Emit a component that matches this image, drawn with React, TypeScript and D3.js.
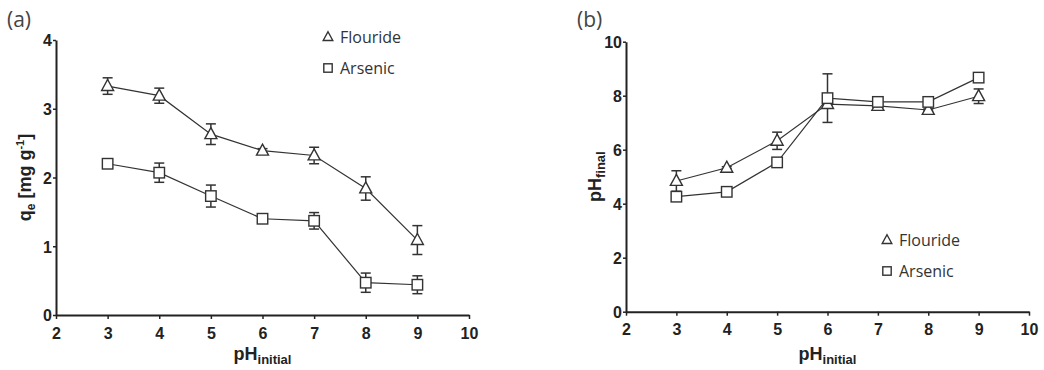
import React, { useRef, useEffect } from "react";
import * as d3 from "d3";

// pH initial values (x)
const phInitial = [3, 4, 5, 6, 7, 8, 9];

// (a) adsorption capacity qe
const qeFlouride = [3.33, 3.19, 2.63, 2.39, 2.32, 1.84, 1.09];
const qeFlourideErr = [0.12, 0.11, 0.15, 0.03, 0.12, 0.17, 0.21];
const qeArsenic = [2.2, 2.07, 1.73, 1.4, 1.37, 0.47, 0.44];
const qeArsenicErr = [0.05, 0.14, 0.16, 0.06, 0.12, 0.14, 0.13];

// (b) final pH
const phFinalFlouride = [4.84, 5.33, 6.33, 7.69, 7.62, 7.47, 7.98];
const phFinalFlourideErr = [0.38, 0.04, 0.32, 0.05, 0.04, 0.04, 0.27];
const phFinalArsenic = [4.26, 4.44, 5.53, 7.91, 7.77, 7.77, 8.67];
const phFinalArsenicErr = [0.1, 0.05, 0.05, 0.9, 0.05, 0.05, 0.05];

const xTicks = [2, 3, 4, 5, 6, 7, 8, 9, 10];
const qeTicks = [0, 1, 2, 3, 4];
const phTicks = [0, 2, 4, 6, 8, 10];

const tickFont = "'Liberation Sans', Arial, sans-serif";
const textFont = "'Open Sans', 'DejaVu Sans', sans-serif";
const ink = "#222";

interface PanelOpts {
  tag: string;
  left: number;
  right: number;
  top: number;
  bottom: number;
  yMax: number;
  yTicks: number[];
  flouride: number[];
  flourideErr: number[];
  arsenic: number[];
  arsenicErr: number[];
  yTitle: "qe" | "ph";
  legendX: number;
  legendY: number;
}

function drawPanel(svg: d3.Selection<SVGSVGElement, unknown, null, undefined>, o: PanelOpts) {
  const g = svg.append("g");
  const x = d3.scaleLinear().domain([2, 10]).range([o.left, o.right]);
  const y = d3.scaleLinear().domain([0, o.yMax]).range([o.bottom, o.top]);

  // axes
  const xAxis = g.append("g").attr("transform", `translate(0,${o.bottom})`)
    .call(d3.axisBottom(x).tickValues(xTicks).tickSize(4).tickSizeOuter(0).tickFormat(d3.format("d")));
  const yAxis = g.append("g").attr("transform", `translate(${o.left},0)`)
    .call(d3.axisLeft(y).tickValues(o.yTicks).tickSize(3).tickSizeOuter(0).tickFormat(d3.format("d")));
  [xAxis, yAxis].forEach((a) => {
    a.select(".domain").attr("stroke", ink).attr("stroke-width", 2);
    a.selectAll(".tick line").attr("stroke", ink).attr("stroke-width", 1.5);
    a.selectAll(".tick text")
      .attr("fill", ink)
      .style("font-family", tickFont)
      .style("font-weight", "bold")
      .style("font-size", "16px");
  });
  xAxis.selectAll(".tick text").attr("dy", "1.05em");
  yAxis.selectAll(".tick text").attr("x", -4).attr("dy", "0.36em");

  // series
  const series = [
    { vals: o.flouride, err: o.flourideErr, shape: "tri" },
    { vals: o.arsenic, err: o.arsenicErr, shape: "sq" },
  ];
  const line = d3.line<number>().x((_, i) => x(phInitial[i])).y((d) => y(d));

  series.forEach((s) => {
    g.append("path")
      .attr("d", line(s.vals)!)
      .attr("fill", "none")
      .attr("stroke", "#333")
      .attr("stroke-width", 1.2);

    // error bars
    s.vals.forEach((v, i) => {
      const cx = x(phInitial[i]);
      const y1 = y(v + s.err[i]);
      const y2 = y(v - s.err[i]);
      const eb = g.append("g").attr("stroke", "#333").attr("stroke-width", 1.5);
      eb.append("line").attr("x1", cx).attr("x2", cx).attr("y1", y1).attr("y2", y2);
      eb.append("line").attr("x1", cx - 5).attr("x2", cx + 5).attr("y1", y1).attr("y2", y1);
      eb.append("line").attr("x1", cx - 5).attr("x2", cx + 5).attr("y1", y2).attr("y2", y2);
    });
  });

  series.forEach((s) => {
    s.vals.forEach((v, i) => {
      drawMarker(g, s.shape, x(phInitial[i]), y(v), 1);
    });
  });

  // legend
  const labels = ["Flouride", "Arsenic"];
  series.forEach((s, i) => {
    const ly = o.legendY + i * 31;
    drawMarker(g, s.shape, o.legendX, ly, 0.8);
    g.append("text")
      .attr("x", o.legendX + 12)
      .attr("y", ly)
      .attr("dy", "0.36em")
      .attr("fill", "#333")
      .style("font-family", textFont)
      .style("font-size", "16px")
      .text(labels[i]);
  });

  // panel tag
  g.append("text")
    .attr("x", o.left - 49)
    .attr("y", 27)
    .attr("fill", "#444")
    .style("font-family", textFont)
    .style("font-size", "21px")
    .text(o.tag);

  // x title
  const xt = g.append("text")
    .attr("x", (o.left + o.right) / 2)
    .attr("y", 360)
    .attr("text-anchor", "middle")
    .attr("fill", ink)
    .style("font-family", tickFont)
    .style("font-weight", "bold")
    .style("font-size", "18px");
  xt.append("tspan").text("pH");
  xt.append("tspan").attr("dy", 4).style("font-size", "13px").text("initial");

  // y title
  const cy = (o.top + o.bottom) / 2;
  const yt = g.append("text")
    .attr("transform", `translate(${o.left - 25},${cy}) rotate(-90)`)
    .attr("text-anchor", "middle")
    .attr("fill", ink)
    .style("font-family", tickFont)
    .style("font-weight", "bold")
    .style("font-size", "18px");
  if (o.yTitle === "qe") {
    yt.append("tspan").text("q");
    yt.append("tspan").attr("dy", 4).style("font-size", "12px").text("e");
    yt.append("tspan").attr("dy", -4).text(" [mg g");
    yt.append("tspan").attr("dy", -7).style("font-size", "11px").text("-1");
    yt.append("tspan").attr("dy", 7).text("]");
  } else {
    yt.append("tspan").text("pH");
    yt.append("tspan").attr("dy", 4).style("font-size", "13px").text("final");
  }
}

function drawMarker(g: d3.Selection<SVGGElement, unknown, null, undefined>, shape: string, cx: number, cy: number, k: number) {
  if (shape === "tri") {
    const h = 11 * k;
    const w = 12 * k;
    g.append("path")
      .attr("d", `M${cx},${cy - h * 0.6}L${cx + w / 2},${cy + h * 0.4}L${cx - w / 2},${cy + h * 0.4}Z`)
      .attr("fill", "white")
      .attr("stroke", "#333")
      .attr("stroke-width", 1.4);
  } else {
    const s = 10.5 * k;
    g.append("rect")
      .attr("x", cx - s / 2)
      .attr("y", cy - s / 2)
      .attr("width", s)
      .attr("height", s)
      .attr("fill", "white")
      .attr("stroke", "#333")
      .attr("stroke-width", 1.4);
  }
}

export default function App() {
  const ref = useRef<SVGSVGElement | null>(null);

  useEffect(() => {
    if (!ref.current) return;
    const svg = d3.select(ref.current);
    svg.selectAll("*").remove();

    drawPanel(svg, {
      tag: "(a)", left: 56, right: 469, top: 40, bottom: 315, yMax: 4, yTicks: qeTicks,
      flouride: qeFlouride, flourideErr: qeFlourideErr,
      arsenic: qeArsenic, arsenicErr: qeArsenicErr,
      yTitle: "qe", legendX: 328, legendY: 37,
    });
    drawPanel(svg, {
      tag: "(b)", left: 626, right: 1029, top: 41.7, bottom: 311.7, yMax: 10, yTicks: phTicks,
      flouride: phFinalFlouride, flourideErr: phFinalFlourideErr,
      arsenic: phFinalArsenic, arsenicErr: phFinalArsenicErr,
      yTitle: "ph", legendX: 887, legendY: 240,
    });
  }, []);

  return (
    <svg
      ref={ref}
      width={1044}
      height={370}
      style={{ position: "absolute", left: 0, top: 0, background: "white" }}
    />
  );
}
